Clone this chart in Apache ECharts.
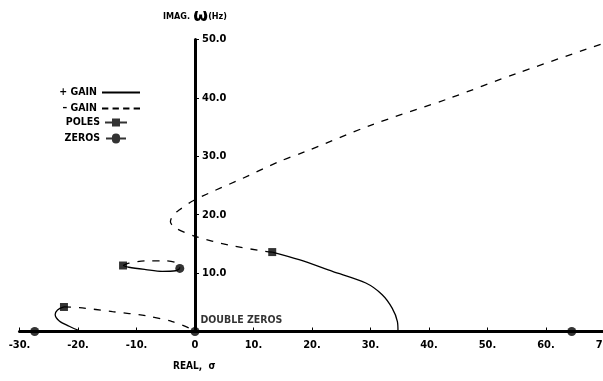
<!DOCTYPE html>
<html>
<head>
<meta charset="utf-8">
<script src="https://cdn.jsdelivr.net/npm/echarts@6/dist/echarts.min.js"></script>
<style>
  html, body { margin: 0; padding: 0; background: #fff; }
  #chart { width: 603px; height: 381px; }
</style>
</head>
<body>
<div id="chart"></div>
<script>
// root locus branches, [real, imag]
const posGainUpper = [[13.2, 13.6], [17.8, 12.3], [23.5, 10.3], [29.2, 8.3], [32.0, 6.3], [33.7, 4.0], [34.6, 1.7], [34.7, 0]]
const posGainLoop = [[-12.3, 11.3], [-11.3, 11.0], [-8.4, 10.6], [-5.6, 10.3], [-3.3, 10.4], [-2.6, 10.8]]
const posGainLow = [[-22.4, 4.2], [-23.5, 3.7], [-23.9, 2.9], [-23.2, 1.8], [-21.5, 0.9], [-19.5, 0]]

const negGainUpper = [[13.2, 13.6], [11.5, 13.8], [5.8, 14.8], [0, 16.3], [-3.3, 17.7], [-4.2, 18.8], [-3.7, 20.0],
  [-2.7, 20.8], [-0.5, 22.3], [2.4, 23.7], [8.1, 26.2], [14.4, 29.1], [18.6, 30.7], [30, 35.3], [43.4, 39.9],
  [55, 44.2], [70, 49.4]]
const negGainLoop = [[-12.3, 11.3], [-11.3, 11.7], [-8.4, 12.1], [-5.0, 12.1], [-3.0, 11.7], [-2.6, 10.8]]
const negGainLow = [[-22.4, 4.2], [-19.8, 4.1], [-14.1, 3.4], [-8.4, 2.7], [-3.9, 1.7], [-1.0, 0.6], [0, 0]]

const poles = [[13.2, 13.6], [-12.3, 11.3], [-22.4, 4.2]]
const zeros = [[-27.4, 0], [0, 0], [64.4, 0], [-2.6, 10.8]]

const xTicks = { min: -30, max: 70, step: 10 }
const yTicks = { min: 0, max: 50, step: 10 }

const font = "'DejaVu Sans Condensed', 'Liberation Sans Narrow', sans-serif"

const gridLeft = 19.5
const gridRight = -1.5
const gridWidth = 603 - gridLeft - gridRight
// shift the imaginary axis over to real = 0
const yAxisOffset = -(0 - xTicks.min) / (xTicks.max - xTicks.min) * gridWidth

const chart = echarts.init(document.getElementById('chart'))

function branch(name, data, dashed) {
  return {
    name: name,
    type: 'line',
    data: data,
    smooth: 0.3,
    showSymbol: false,
    silent: true,
    animation: false,
    lineStyle: {
      color: '#000',
      width: 1.3,
      type: dashed ? [7, 8] : 'solid'
    },
    z: 2
  }
}

const lineIcon = 'path://M0,4H40V6H0Z'
const dashIcon = 'path://M0,4H6V6H0Z M10,4H16V6H10Z M20,4H26V6H20Z M30,4H36V6H30Z'
const poleIcon = 'path://M0,4H7V1H15V9H7V6H0Z M15,4H22V6H15Z'
const zeroIcon = 'path://M0,4H6.5A4.5,4.5,0,1,1,15.5,4H22V6H15.5A4.5,4.5,0,1,1,6.5,6H0Z'

chart.setOption({
  animation: false,
  grid: {
    left: gridLeft,
    right: gridRight,
    top: 39.5,
    bottom: 49.5,
    outerBoundsMode: 'none',
    containLabel: false
  },
  legend: [
    {
      data: [
        { name: '+ GAIN', icon: lineIcon },
        { name: '– GAIN', icon: dashIcon }
      ],
      orient: 'vertical',
      align: 'right',
      right: 463,
      top: 87,
      padding: 0,
      itemWidth: 38,
      itemHeight: 10,
      itemGap: 5,
      selectedMode: false,
      itemStyle: { color: '#000', borderWidth: 0 },
      lineStyle: { width: 0 },
      textStyle: { fontFamily: font, fontWeight: 'bold', fontSize: 10.5, color: '#000' }
    },
    {
      data: [
        { name: 'POLES', icon: poleIcon },
        { name: 'ZEROS', icon: zeroIcon }
      ],
      orient: 'vertical',
      align: 'right',
      right: 476,
      top: 117,
      padding: 0,
      itemWidth: 22,
      itemHeight: 10,
      itemGap: 5,
      selectedMode: false,
      itemStyle: { color: '#000', borderWidth: 0 },
      textStyle: { fontFamily: font, fontWeight: 'bold', fontSize: 10.5, color: '#000' }
    }
  ],
  xAxis: {
    type: 'value',
    min: xTicks.min,
    max: xTicks.max,
    interval: xTicks.step,
    axisLine: { onZero: false, lineStyle: { color: '#000', width: 3 } },
    axisTick: { inside: true, length: 4, lineStyle: { color: '#000', width: 1 } },
    axisLabel: {
      margin: 8,
      showMaxLabel: true,
      hideOverlap: false,
      fontFamily: font,
      fontWeight: 'bold',
      fontSize: 11,
      color: '#000',
      formatter: v => (v === 0 ? '0' : v + '.')
    },
    splitLine: { show: false }
  },
  yAxis: {
    type: 'value',
    min: yTicks.min,
    max: yTicks.max,
    interval: yTicks.step,
    offset: yAxisOffset,
    name: '{s|IMAG.} {w|ω}{s|(Hz)}',
    nameLocation: 'end',
    nameGap: 14,
    nameTextStyle: {
      color: '#000',
      rich: {
        s: { fontFamily: font, fontWeight: 'bold', fontSize: 9, color: '#000' },
        w: { fontFamily: "'DejaVu Sans'", fontWeight: 'bold', fontSize: 17, color: '#000' }
      }
    },
    axisLine: { onZero: false, lineStyle: { color: '#000', width: 3 } },
    axisTick: { inside: true, length: 4, lineStyle: { color: '#000', width: 1 } },
    axisLabel: {
      inside: true,
      margin: 7,
      fontFamily: font,
      fontWeight: 'bold',
      fontSize: 11,
      color: '#000',
      formatter: v => (v === 0 ? '' : v.toFixed(1))
    },
    splitLine: { show: false }
  },
  graphic: [
    {
      type: 'text',
      left: 173,
      top: 361,
      style: {
        text: 'REAL,  σ',
        font: 'bold 10px ' + font,
        fill: '#000'
      }
    }
  ],
  series: [
    branch('+ GAIN', posGainUpper, false),
    branch('+ GAIN', posGainLoop, false),
    branch('+ GAIN', posGainLow, false),
    branch('– GAIN', negGainUpper, true),
    branch('– GAIN', negGainLoop, true),
    branch('– GAIN', negGainLow, true),
    {
      name: 'POLES',
      type: 'scatter',
      data: poles,
      symbol: 'rect',
      symbolSize: 8,
      itemStyle: { color: '#000' },
      z: 5
    },
    {
      name: 'ZEROS',
      type: 'scatter',
      data: zeros.map(p => {
        if (p[0] === 0 && p[1] === 0) {
          return {
            value: p,
            label: {
              show: true,
              position: [10, -12],
              formatter: 'DOUBLE ZEROS',
              fontFamily: font,
              fontWeight: 'bold',
              fontSize: 10.5,
              color: '#000'
            }
          }
        }
        return p
      }),
      symbol: 'circle',
      symbolSize: 9,
      itemStyle: { color: '#000' },
      z: 5
    }
  ]
})
</script>
</body>
</html>
